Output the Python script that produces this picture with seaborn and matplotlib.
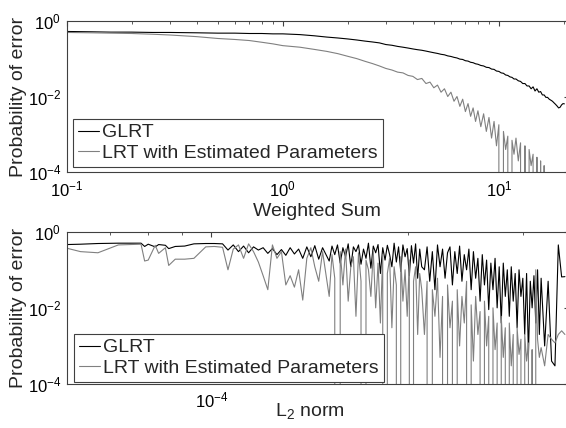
import numpy as np
import matplotlib
matplotlib.use("Agg")
import matplotlib.pyplot as plt
import seaborn as sns
from matplotlib.ticker import LogLocator, NullFormatter, NullLocator

# ---------------- data: top panel (Weighted Sum) ----------------
weighted_sum = [0.10, 0.13, 0.16, 0.20, 0.25, 0.30, 0.40, 0.50, 0.60, 0.70, 0.80, 0.90,
                1.0, 1.2, 1.4, 1.6, 1.8, 2.0, 2.2, 2.4, 2.6, 2.8,
                3.0, 3.2, 3.4, 3.6, 3.8, 4.0, 4.2, 4.4, 4.6, 4.8, 5.0, 5.2, 5.4, 5.6, 5.8,
                6.0, 6.2, 6.4, 6.6, 6.8, 7.0, 7.2, 7.4, 7.6, 7.8, 8.0, 8.25, 8.5, 8.75,
                9.0, 9.25, 9.5, 9.75, 10.0, 10.25, 10.5, 10.75, 11.0, 11.25, 11.5, 11.75,
                12.0, 12.3, 12.6, 12.9, 13.2, 13.5, 13.8, 14.1, 14.4, 14.7, 15.0, 15.3,
                15.6, 15.9, 16.2, 16.5, 16.8, 17.1, 17.4, 17.7, 18.0, 18.3, 18.6, 18.9,
                19.2, 19.5, 19.8, 20.1]
glrt_weighted = [0.52, 0.51, 0.50, 0.50, 0.49, 0.49, 0.48, 0.47, 0.47, 0.46, 0.46, 0.45,
                 0.45, 0.43, 0.40, 0.37, 0.35, 0.33, 0.31, 0.29, 0.275, 0.26,
                 0.235, 0.225, 0.21, 0.20, 0.19, 0.18, 0.172, 0.166, 0.158, 0.150, 0.143,
                 0.137, 0.130, 0.126, 0.118,
                 0.114, 0.108, 0.104, 0.097, 0.095, 0.088, 0.086, 0.080, 0.078, 0.073,
                 0.071, 0.066, 0.064, 0.059,
                 0.058, 0.053, 0.052, 0.047, 0.046, 0.042, 0.041, 0.037, 0.036, 0.033,
                 0.032, 0.029,
                 0.029, 0.026, 0.025, 0.022, 0.022, 0.019, 0.019, 0.016, 0.018, 0.014,
                 0.016, 0.013,
                 0.0135, 0.011, 0.011, 0.0095, 0.0095, 0.0085, 0.008, 0.0075, 0.0068,
                 0.0062, 0.0056, 0.005,
                 0.0052, 0.006, 0.0065, 0.0064]
lrt_weighted = [0.49, 0.48, 0.47, 0.46, 0.44, 0.42, 0.38, 0.34, 0.32, 0.30, 0.27, 0.245,
                0.22, 0.20, 0.175, 0.155, 0.135, 0.115, 0.10, 0.085, 0.074, 0.064,
                0.055, 0.050, 0.044, 0.042, 0.036, 0.034, 0.028, 0.030, 0.022, 0.024,
                0.017, 0.020, 0.013, 0.016, 0.010,
                0.013, 0.0075, 0.010, 0.0055, 0.0085, 0.004, 0.0065, 0.003, 0.005, 0.0022,
                0.0042, 0.0016, 0.0035, 0.0012,
                0.0028, 0.0008, 0.0022, 0.0005, 0.0018, 0.0, 0.0012, 0.0004, 0.0009, 0.0,
                0.0007, 0.0003,
                0.0008, 0.0002, 0.0006, 0.0, 0.0005, 0.0, 0.0004, 0.00015, 0.0003, 0.0,
                0.00025, 0.0,
                0.0002, 0.0, 0.00015, 0.0, 0.0, 0.0, 0.0, 0.0, 0.0,
                0.0, 0.0, 0.0,
                0.0, 0.0, 0.0, 0.0]

# ---------------- data: bottom panel (L2 norm, in units of 1e-5) ----------------
l2_norm_1e5 = [6.0, 6.3, 6.7, 7.2, 7.8, 7.9, 8.0, 8.2, 8.3, 8.5, 8.6, 8.8, 9.1, 9.4, 9.8, 10.1,
               10.4, 10.6, 10.8, 11.0, 11.2, 11.4, 11.6, 11.8, 12.0, 12.2, 12.4, 12.6,
               12.8, 13.0, 13.2, 13.4, 13.6, 13.8, 14.0, 14.2, 14.4, 14.6, 14.8,
               15.15, 15.3, 15.45, 15.6, 15.75, 15.9, 16.05, 16.2, 16.35, 16.5,
               16.65, 16.8, 16.95, 17.1, 17.25, 17.4, 17.55, 17.7, 17.85, 18.0,
               18.15, 18.3, 18.45, 18.6, 18.75, 18.9, 19.05, 19.2, 19.35, 19.5,
               19.65, 19.8, 19.95, 20.1, 20.25, 20.4, 20.55, 20.7, 20.85, 21.0,
               21.2, 21.4, 21.6, 21.8, 22.0, 22.2, 22.4, 22.6, 22.8, 23.0,
               23.2, 23.4, 23.6, 23.8, 24.0, 24.2, 24.4, 24.6, 24.8, 25.0,
               25.2, 25.4, 25.6, 25.8, 26.0, 26.2, 26.4, 26.6, 26.8, 27.0,
               27.2, 27.4, 27.6, 27.8, 28.0, 28.2, 28.4, 28.6, 28.8, 29.0,
               29.2, 29.4, 29.6, 29.8, 30.0, 30.2, 30.4, 30.6, 30.8, 31.0,
               31.2, 31.4, 31.6, 31.8, 32.0,
               32.4, 32.8, 33.2, 33.6, 34.0, 34.4, 34.8]
glrt_l2 = [0.46, 0.47, 0.49, 0.50, 0.50, 0.41, 0.47, 0.40, 0.46, 0.44, 0.36, 0.41, 0.42,
           0.48, 0.49, 0.49,
           0.48, 0.33, 0.45, 0.30, 0.42, 0.28, 0.40, 0.33, 0.38, 0.27, 0.36, 0.25,
           0.34, 0.24, 0.38, 0.26, 0.35, 0.20, 0.40, 0.22, 0.43, 0.19, 0.38,
           0.17, 0.42, 0.25, 0.45, 0.15, 0.38, 0.22, 0.48, 0.12, 0.40,
           0.30, 0.45, 0.14, 0.35, 0.20, 0.50, 0.11, 0.42, 0.28, 0.46,
           0.08, 0.38, 0.18, 0.44, 0.25, 0.12, 0.50, 0.16, 0.40, 0.09,
           0.45, 0.22, 0.36, 0.07, 0.43, 0.15, 0.48, 0.06, 0.35, 0.12,
           0.10, 0.40, 0.05, 0.30, 0.03, 0.45, 0.12, 0.35, 0.06, 0.28,
           0.40, 0.04, 0.30, 0.08, 0.42, 0.05, 0.25, 0.10, 0.35, 0.03,
           0.30, 0.06, 0.20, 0.015, 0.25, 0.04, 0.18, 0.009, 0.15, 0.03,
           0.20, 0.01, 0.12, 0.004, 0.15, 0.02, 0.10, 0.006, 0.12, 0.015,
           0.08, 0.003, 0.10, 0.02, 0.06, 0.002, 0.08, 0.0006, 0.05, 0.01,
           0.07, 0.004, 0.10, 0.002, 0.06,
           0.001, 0.05, 0.0004, 0.0003, 0.45, 0.065, 0.066]
lrt_l2 = [0.37, 0.30, 0.28, 0.45, 0.47, 0.17, 0.18, 0.44, 0.27, 0.38, 0.13, 0.19, 0.19,
          0.20, 0.40, 0.41,
          0.39, 0.10, 0.35, 0.45, 0.20, 0.48, 0.30, 0.16, 0.07, 0.03, 0.45, 0.20,
          0.30, 0.04, 0.07, 0.035, 0.10, 0.016, 0.20, 0.38, 0.12, 0.05, 0.30,
          0.02, 0.25, 0.06, 0.0, 0.30, 0.04, 0.35, 0.015, 0.12, 0.22,
          0.006, 0.28, 0.05, 0.0, 0.18, 0.10, 0.02, 0.30, 0.01, 0.15,
          0.004, 0.25, 0.0, 0.08, 0.20, 0.003, 0.12, 0.04, 0.0, 0.22,
          0.015, 0.10, 0.006, 0.18, 0.0, 0.05, 0.12, 0.002, 0.08, 0.03,
          0.002, 0.05, 0.0, 0.03, 0.006, 0.06, 0.0005, 0.02, 0.0, 0.04,
          0.003, 0.015, 0.0, 0.03, 0.001, 0.02, 0.004, 0.05, 0.0, 0.012,
          0.0004, 0.02, 0.002, 0.008, 0.0, 0.015, 0.001, 0.006, 0.0, 0.01,
          0.0008, 0.004, 0.0, 0.006, 0.0005, 0.003, 0.0, 0.004, 0.0003, 0.002,
          0.0, 0.003, 0.0006, 0.0015, 0.0, 0.002, 0.0004, 0.0012, 0.0, 0.0008,
          0.0, 0.1, 0.0015, 0.0005, 0.0009,
          0.0003, 0.002, 0.0015, 0.0012, 0.002, 0.0025, 0.002]

series_labels = ["GLRT", "LRT with Estimated Parameters"]
series_colors = ["#000000", "#808080"]

# ---------------- style ----------------
sns.set_style("white")
plt.rcParams.update({
    "font.family": ["Liberation Sans", "DejaVu Sans"],
    "mathtext.fontset": "custom",
    "mathtext.rm": "Liberation Sans",
    "mathtext.it": "Liberation Sans:italic",
    "mathtext.bf": "Liberation Sans:bold",
    "axes.unicode_minus": False,
    "axes.edgecolor": "#404040",
    "axes.linewidth": 0.8,
    "xtick.color": "#404040",
    "ytick.color": "#404040",
    "xtick.labelcolor": "black",
    "ytick.labelcolor": "black",
})

fig = plt.figure(figsize=(5.66, 4.28), dpi=100)
ax1 = fig.add_axes([0.1178, 0.5974, 0.8874, 0.3542])
ax2 = fig.add_axes([0.1178, 0.1028, 0.8874, 0.3558])

l2_norm = np.array(l2_norm_1e5) * 1e-5

for ax, xs, ys_list in [(ax1, weighted_sum, [glrt_weighted, lrt_weighted]),
                        (ax2, l2_norm, [glrt_l2, lrt_l2])]:
    for ys, lab, col in zip(ys_list, series_labels, series_colors):
        sns.lineplot(x=np.asarray(xs), y=np.asarray(ys), ax=ax, color=col, linewidth=0.8,
                     estimator=None, sort=False, label=lab)
    ax.set_xscale("log")
    ax.set_yscale("log")
    ax.set_ylim(1e-4, 1)
    ax.set_yticks([1e-4, 1e-2, 1e0])
    ax.yaxis.set_minor_locator(NullLocator())
    ax.xaxis.set_minor_formatter(NullFormatter())
    ax.tick_params(which="both", direction="in", top=True, right=True, labelsize=12)
    ax.tick_params(which="major", length=3.5, width=0.8)
    ax.tick_params(which="minor", length=2.2, width=0.6)
    ax.tick_params(axis="x", pad=5)
    ax.tick_params(axis="y", pad=4)
    ax.set_ylabel("Probability of error", fontsize=14)
    ax.yaxis.set_label_coords(-0.078, 0.5)

ax1.set_xlim(0.1, 21.1)
ax1.set_xticks([0.1, 1, 10])
ax1.xaxis.set_minor_locator(LogLocator(base=10, subs=np.arange(2, 10)))
ax1.set_xlabel("Weighted Sum", fontsize=14)
ax1.xaxis.set_label_coords(0.498, -0.2)

ax2.set_xlim(6.0e-5, 3.53e-4)
ax2.set_xticks([1e-4])
ax2.xaxis.set_minor_locator(LogLocator(base=10, subs=np.arange(2, 10)))
ax2.set_xlabel("L$_2$ norm", fontsize=14)
ax2.xaxis.set_label_coords(0.485, -0.11)

for ax, anchor in [(ax1, (0.013, 0.037)), (ax2, (0.0145, 0.015))]:
    leg = ax.legend(loc="lower left", bbox_to_anchor=anchor, borderaxespad=0,
                    fancybox=False, edgecolor="#404040", framealpha=1, fontsize=14,
                    handlelength=1.1, handletextpad=0.15, borderpad=0.25,
                    labelspacing=0.15)
    leg.get_frame().set_linewidth(0.8)

fig.savefig("out.png", dpi=100)
